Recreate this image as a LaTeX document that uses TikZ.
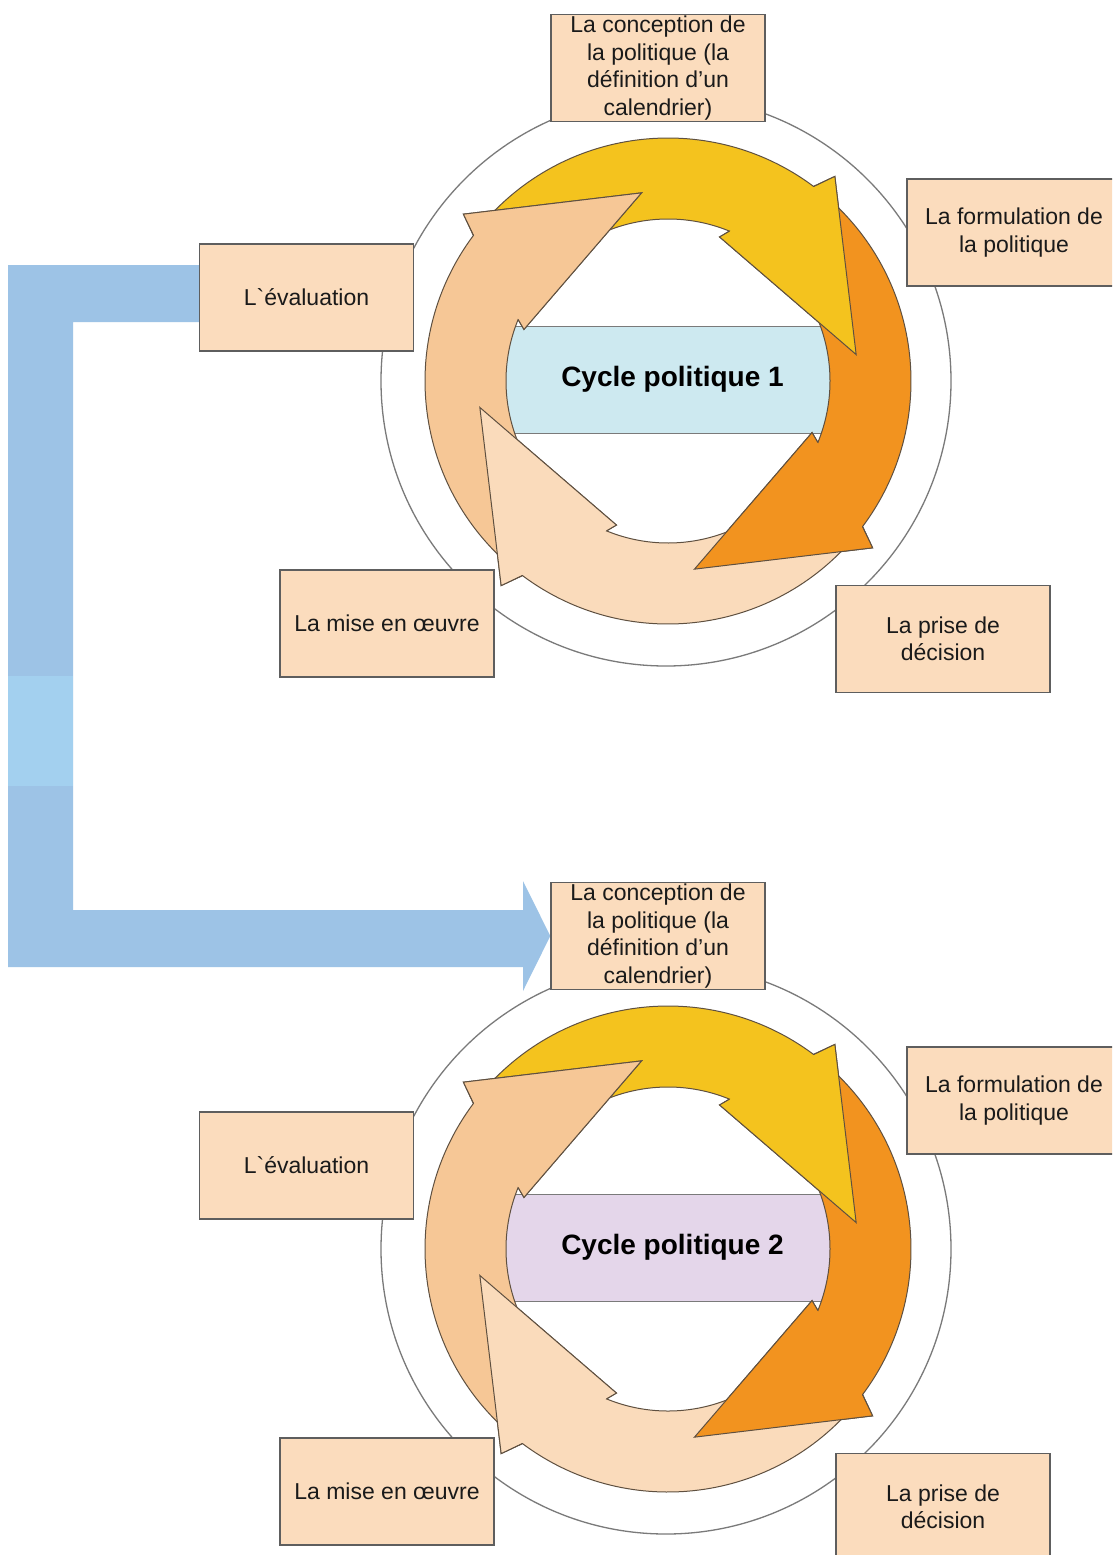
\documentclass[tikz,border=0pt]{standalone}
\usepackage{fontspec}
\setmainfont{Liberation Sans}
\usetikzlibrary{backgrounds}

\definecolor{ringyellow}{HTML}{F4C31E}
\definecolor{ringorange}{HTML}{F2931F}
\definecolor{ringpeach}{HTML}{FADBBB}
\definecolor{ringtan}{HTML}{F6C796}
\definecolor{boxfill}{HTML}{FBDCBD}
\definecolor{boxline}{HTML}{5E5E5E}
\definecolor{edgeline}{HTML}{5F5040}
\definecolor{guidecircle}{HTML}{7A7A7A}
\definecolor{coreblue}{HTML}{CDE9F0}
\definecolor{corelilac}{HTML}{E4D6EA}
\definecolor{bandblue}{HTML}{9DC3E6}
\definecolor{bandlight}{HTML}{A3D0EF}
\definecolor{inktext}{HTML}{1A1A1A}

\tikzset{
  stage/.style={draw=boxline, line width=1.4pt, fill=boxfill, minimum width=214,
    minimum height=107, inner sep=0pt, align=center, text=inktext,
    font=\fontsize{23}{27.4}\selectfont},
  centrebox/.style={draw=guidecircle, line width=1pt, minimum width=325,
    minimum height=107, inner sep=0pt, text=black,
    font=\fontsize{28}{32}\selectfont\bfseries},
  guide/.style={draw=guidecircle, line width=1.3pt},
  ringedge/.style={draw=edgeline, line width=1pt, line join=miter}
}

% One policy cycle: guide circle, centre label, four curved arrows, five stages
\newcommand\policycycle[4]{%
\begin{scope}[yshift=#1]
  \draw[guide] (666,-381) circle[radius=285];
  \node[centrebox, fill=#3] (core#2) at (667.5,-379.5) {\hspace*{10pt}#4};
  \begin{scope}[shift={(668,-381)}]
    % bodies of the curved arrows
    \foreach \ang/\col in {0/ringyellow,-90/ringorange,-180/ringpeach,-270/ringtan}{
      \filldraw[ringedge, fill=\col, rotate=\ang]
        (139:243) arc[start angle=139, end angle=53.2, radius=243]
        -- (50.8:264) -- (8:190) -- (70.3:153) -- (67.7:162)
        arc[start angle=67.7, end angle=139, radius=162] -- cycle;
    }
    % heads laid over the tail of the following arrow
    \foreach \ang/\col in {0/ringyellow,-90/ringorange,-180/ringpeach,-270/ringtan}{
      \fill[\col, rotate=\ang] (50.8:264) -- (8:190) -- (70.3:153) -- cycle;
      \draw[ringedge, rotate=\ang] (53.2:243) -- (50.8:264) -- (8:190) -- (70.3:153) -- (67.7:162);
    }
  \end{scope}
  \node[stage] (conc#2) at (658,-68) {La conception de\\la politique (la\\définition d’un\\calendrier)};
  \node[stage] (form#2) at (1014,-232.5) {La formulation de\\la politique};
  \node[stage] (eval#2) at (306.5,-297.5) {L\textasciigrave évaluation};
  \node[stage] (mise#2) at (387,-623.5) {La mise en œuvre};
  \node[stage] (dec#2) at (943,-639) {La prise de\\décision};
\end{scope}}

\begin{document}
\begin{tikzpicture}[x=1pt, y=1pt]
  \useasboundingbox (0,0) rectangle (1112,-1555);
  \clip (0,0) rectangle (1112,-1555);

  \policycycle{0pt}{A}{coreblue}{Cycle politique 1}
  \policycycle{-868pt}{B}{corelilac}{Cycle politique 2}

  % broad feedback arrow from the evaluation of cycle 1 to the design of cycle 2
  \begin{pgfonlayer}{background}
    \fill[white] (0,0) rectangle (1112,-1555);
    \fill[bandblue] ([xshift=12, yshift=32.5]evalA.west) -- (8,-265) -- (8,-967)
      -- (523,-967) -- (523,-991) -- (concB.west) -- (523,-881) -- (523,-910)
      -- (73,-910) -- (73,-322) -- ([xshift=12, yshift=-24.5]evalA.west) -- cycle;
    \fill[bandlight] (8,-676) rectangle (73,-786);
  \end{pgfonlayer}
\end{tikzpicture}
\end{document}
